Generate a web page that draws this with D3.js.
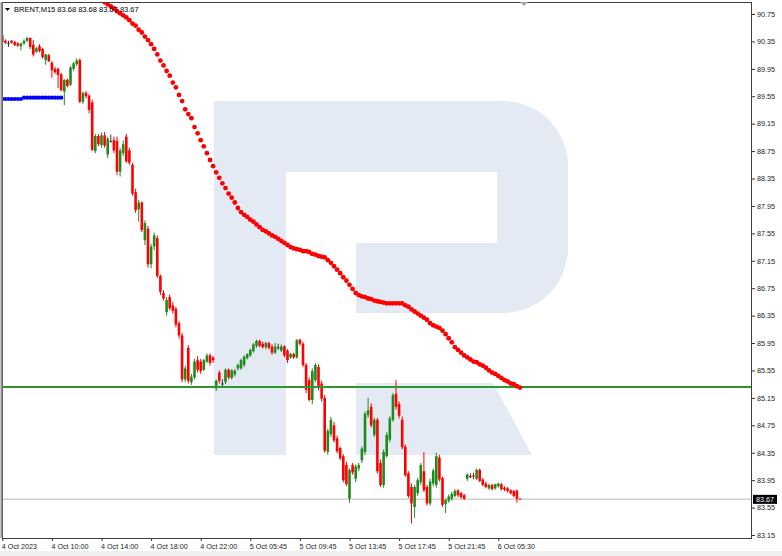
<!DOCTYPE html>
<html>
<head>
<meta charset="utf-8">
<script src="https://cdn.jsdelivr.net/npm/d3@7"></script>
<style>
  body { margin: 0; background: #fff; }
  svg { display: block; font-family: 'Liberation Sans', Arial, sans-serif; }
</style>
</head>
<body>
<script>
// BRENT M15, bars indexed 0..167
const opens = [
  90.44, 90.36, 90.33, 90.36, 90.34, 90.32, 90.28, 90.32, 90.36, 90.40,
  90.30, 90.20, 90.28, 90.24, 90.08, 90.15, 90.04, 89.95, 89.95, 89.87,
  89.62, 89.79, 89.72, 89.95, 90.02, 90.08, 89.47, 89.60, 89.56, 89.46,
  88.75, 88.97, 88.84, 88.98, 88.70, 88.90, 88.91, 88.90, 88.45, 88.72,
  88.96, 88.76, 88.55, 88.15, 87.90, 88.00, 87.45, 87.62, 87.10, 87.36,
  87.48, 86.93, 86.68, 86.40, 86.62, 86.50, 86.45, 86.24, 86.06, 85.42,
  85.88, 85.38, 85.45, 85.70, 85.68, 85.56, 85.68, 85.77, 85.74, 85.29,
  85.52, 85.36, 85.38, 85.56, 85.44, 85.49, 85.58, 85.58, 85.63, 85.73,
  85.77, 85.83, 85.91, 85.98, 85.94, 85.89, 85.95, 85.90, 85.81, 85.89,
  85.84, 85.90, 85.84, 85.74, 85.79, 85.74, 86.00, 85.94, 85.63, 85.41,
  85.12, 85.41, 85.60, 85.36, 85.15, 84.36, 84.62, 84.75, 84.56, 84.42,
  84.30, 84.17, 83.68, 84.17, 83.97, 84.12, 84.24, 84.36, 84.90, 85.02,
  84.61, 84.83, 84.20, 83.88, 84.30, 84.54, 84.83, 85.21, 85.06, 84.83,
  84.44, 84.05, 83.85, 83.56, 83.76, 83.92, 84.08, 83.85, 83.61, 83.90,
  83.88, 84.28, 83.98, 83.60, 83.65, 83.68, 83.72, 83.80, 83.76, 83.73,
  83.97, 84.01, 84.02, 83.97, 84.10, 83.96, 83.90, 83.83, 83.88, 83.83,
  83.86, 83.89, 83.84, 83.83, 83.80, 83.79, 83.80, 83.68
];
const highs = [
  90.46, 90.38, 90.36, 90.37, 90.36, 90.34, 90.33, 90.38, 90.42, 90.41,
  90.37, 90.27, 90.31, 90.26, 90.17, 90.17, 90.06, 89.98, 89.97, 89.89,
  89.80, 89.81, 89.99, 90.05, 90.10, 90.10, 89.62, 89.63, 89.58, 89.50,
  89.00, 89.00, 89.02, 89.03, 88.96, 88.99, 88.96, 88.96, 88.80, 88.90,
  89.00, 88.80, 88.58, 88.20, 88.04, 88.02, 87.74, 87.66, 87.40, 87.56,
  87.52, 86.95, 86.72, 86.62, 86.66, 86.55, 86.48, 86.27, 86.10, 85.62,
  85.92, 85.50, 85.72, 85.76, 85.72, 85.72, 85.80, 85.80, 85.76, 85.42,
  85.55, 85.42, 85.58, 85.58, 85.57, 85.57, 85.65, 85.72, 85.77, 85.80,
  85.87, 85.95, 86.00, 86.00, 85.97, 85.97, 85.97, 85.93, 85.95, 85.94,
  85.93, 85.92, 85.86, 85.81, 85.81, 86.01, 86.01, 85.97, 85.66, 85.45,
  85.58, 85.66, 85.64, 85.40, 85.19, 84.70, 84.87, 84.80, 84.60, 84.44,
  84.33, 84.22, 84.12, 84.20, 84.18, 84.20, 84.44, 84.95, 85.15, 85.07,
  84.86, 84.86, 84.25, 84.40, 84.65, 84.88, 85.22, 85.41, 85.10, 84.88,
  84.47, 84.08, 83.90, 83.88, 83.98, 84.20, 84.36, 83.88, 83.97, 84.12,
  84.35, 84.32, 84.00, 83.68, 83.74, 83.78, 83.82, 83.82, 83.78, 83.75,
  84.05, 84.05, 84.06, 84.12, 84.12, 83.98, 83.93, 83.90, 83.90, 83.90,
  83.91, 83.91, 83.86, 83.85, 83.82, 83.81, 83.81, 83.68
];
const lows = [
  90.33, 90.31, 90.27, 90.32, 90.28, 90.27, 90.22, 90.30, 90.34, 90.24,
  90.13, 90.18, 90.19, 90.10, 90.01, 90.05, 89.82, 89.88, 89.67, 89.62,
  89.42, 89.68, 89.70, 89.92, 89.99, 89.45, 89.44, 89.52, 89.30, 88.75,
  88.72, 88.82, 88.80, 88.80, 88.65, 88.87, 88.72, 88.40, 88.38, 88.68,
  88.58, 88.55, 88.10, 87.85, 87.72, 87.57, 87.38, 87.05, 87.04, 87.30,
  86.90, 86.65, 86.57, 86.35, 86.43, 86.38, 86.18, 86.02, 85.38, 85.38,
  85.36, 85.34, 85.42, 85.52, 85.50, 85.54, 85.66, 85.62, 85.66, 85.25,
  85.36, 85.30, 85.35, 85.42, 85.42, 85.46, 85.55, 85.56, 85.60, 85.71,
  85.75, 85.81, 85.88, 85.89, 85.87, 85.86, 85.86, 85.78, 85.79, 85.85,
  85.82, 85.74, 85.66, 85.72, 85.72, 85.72, 85.91, 85.60, 85.22, 85.10,
  85.06, 85.38, 85.26, 85.10, 84.35, 84.32, 84.58, 84.50, 84.34, 84.24,
  83.92, 83.86, 83.62, 84.03, 83.92, 84.08, 84.20, 84.32, 84.86, 84.72,
  84.58, 84.05, 83.85, 83.84, 84.28, 84.50, 84.80, 84.98, 84.85, 84.40,
  84.00, 83.69, 83.32, 83.40, 83.72, 83.88, 83.78, 83.58, 83.58, 83.86,
  83.84, 83.93, 83.56, 83.47, 83.62, 83.65, 83.70, 83.70, 83.68, 83.66,
  83.94, 83.98, 83.96, 83.95, 83.92, 83.86, 83.83, 83.81, 83.80, 83.81,
  83.84, 83.80, 83.79, 83.77, 83.74, 83.70, 83.62, 83.67
];
const closes = [
  90.34, 90.33, 90.33, 90.33, 90.30, 90.29, 90.32, 90.36, 90.40, 90.27,
  90.16, 90.25, 90.21, 90.12, 90.16, 90.06, 89.93, 89.90, 89.86, 89.64,
  89.79, 89.70, 89.97, 90.03, 90.07, 89.47, 89.60, 89.55, 89.35, 88.77,
  88.97, 88.85, 88.98, 88.83, 88.93, 88.90, 88.76, 88.45, 88.76, 88.85,
  88.60, 88.58, 88.13, 87.89, 88.00, 87.60, 87.70, 87.10, 87.36, 87.52,
  86.93, 86.70, 86.60, 86.58, 86.46, 86.42, 86.22, 86.06, 85.42, 85.58,
  85.40, 85.46, 85.68, 85.56, 85.54, 85.70, 85.77, 85.66, 85.70, 85.40,
  85.40, 85.36, 85.56, 85.45, 85.55, 85.55, 85.63, 85.70, 85.75, 85.79,
  85.85, 85.93, 85.98, 85.91, 85.89, 85.95, 85.88, 85.81, 85.90, 85.89,
  85.90, 85.77, 85.70, 85.79, 85.74, 85.99, 85.94, 85.63, 85.27, 85.12,
  85.54, 85.63, 85.30, 85.14, 84.38, 84.67, 84.83, 84.53, 84.37, 84.27,
  83.95, 83.89, 84.10, 84.06, 84.15, 84.17, 84.41, 84.92, 84.97, 84.75,
  84.83, 84.08, 83.88, 84.36, 84.61, 84.85, 85.19, 85.02, 84.89, 84.43,
  84.02, 83.72, 83.61, 83.85, 83.95, 84.17, 83.80, 83.61, 83.93, 84.09,
  84.30, 83.96, 83.59, 83.66, 83.71, 83.75, 83.79, 83.73, 83.70, 83.68,
  84.03, 84.01, 84.00, 84.10, 83.94, 83.88, 83.85, 83.88, 83.82, 83.89,
  83.90, 83.82, 83.81, 83.79, 83.76, 83.72, 83.68, 83.67
];

// moving average (red dots), first visible at bar 33
const maStart = 33;
const maValues = [
  90.92, 90.89, 90.86, 90.83, 90.79, 90.76, 90.73, 90.70, 90.66, 90.61,
  90.58, 90.52, 90.48, 90.42, 90.37, 90.31, 90.24, 90.16, 90.07, 90.00,
  89.92, 89.85, 89.75, 89.68, 89.57, 89.48, 89.36, 89.29, 89.23, 89.10,
  89.01, 88.91, 88.82, 88.72, 88.62, 88.53, 88.44, 88.36, 88.28, 88.21,
  88.13, 88.07, 88.00, 87.92, 87.86, 87.82, 87.79, 87.75, 87.72, 87.68,
  87.64, 87.60, 87.58, 87.55, 87.52, 87.50, 87.47, 87.44, 87.41, 87.38,
  87.35, 87.33, 87.32, 87.31, 87.29, 87.29, 87.28, 87.25, 87.24, 87.22,
  87.21, 87.20, 87.16, 87.12, 87.07, 87.02, 86.97, 86.91, 86.86, 86.80,
  86.74, 86.68, 86.65, 86.63, 86.62, 86.60, 86.59, 86.57, 86.56, 86.55,
  86.54, 86.53, 86.53, 86.53, 86.53, 86.53, 86.53, 86.50, 86.48, 86.44,
  86.41, 86.38, 86.35, 86.32, 86.29, 86.24, 86.21, 86.19, 86.17, 86.13,
  86.08, 86.02, 85.96, 85.89, 85.85, 85.81, 85.77, 85.74, 85.71, 85.68,
  85.67, 85.64, 85.62, 85.59, 85.55, 85.52, 85.50, 85.47, 85.44, 85.41,
  85.39, 85.36, 85.35, 85.32, 85.30
];

// blue dotted level at the start of the chart
const blueValues = [
  89.51, 89.51, 89.51, 89.51, 89.51, 89.51, 89.51, 89.53, 89.53, 89.53,
  89.53, 89.53, 89.53, 89.53, 89.53, 89.53, 89.53, 89.53, 89.53, 89.53
];

const supportLevel = 85.31;
const bidPrice = 83.67;

const yTicks = [90.75, 90.35, 89.95, 89.55, 89.15, 88.75, 88.35, 87.95, 87.55, 87.15,
  86.75, 86.35, 85.95, 85.55, 85.15, 84.75, 84.35, 83.95, 83.55, 83.15];
const xTickBars = [0, 16, 32, 48, 64, 80, 96, 112, 128, 144, 160];
const xTickLabels = ['4 Oct 2023', '4 Oct 10:00', '4 Oct 14:00', '4 Oct 18:00', '4 Oct 22:00',
  '5 Oct 05:45', '5 Oct 09:45', '5 Oct 13:45', '5 Oct 17:45', '5 Oct 21:45', '6 Oct 05:30'];

const svgWidth = 782,
  svgHeight = 556,
  plotLeft = 2,
  plotRight = 752,
  plotTop = 2,
  plotBottom = 538,
  bullColor = '#1f8b1f',
  bearColor = '#ff0000',
  dojiColor = '#333333',
  maColor = '#ff0000',
  blueColor = '#0000ff',
  logoColor = '#e4eaf3';

const svg = d3.select('body')
  .append('svg')
  .attr('width', svgWidth)
  .attr('height', svgHeight);

svg.append('rect')
  .attr('x', 0).attr('y', 551)
  .attr('width', svgWidth).attr('height', 5)
  .attr('fill', '#f0f0f0');

const yScale = d3.scaleLinear()
  .domain([83.15, 90.75])
  .range([535, 14]);

const xScale = d3.scaleLinear()
  .domain([0, 160])
  .range([2.3, 498.3]);

svg.append('clipPath')
  .attr('id', 'plot')
  .append('rect')
  .attr('x', plotLeft).attr('y', plotTop)
  .attr('width', plotRight - plotLeft).attr('height', plotBottom - plotTop);

const plot = svg.append('g').attr('clip-path', 'url(#plot)');

// watermark "R"
const logo = plot.append('g').attr('fill', logoColor);
logo.append('rect').attr('x', 214).attr('y', 101).attr('width', 72).attr('height', 354);
logo.append('path')
  .attr('d', 'M286,101 H503 A65,65 0 0 1 568,166 V248 A65,65 0 0 1 503,313 H356 V243 H497 V172 H286 Z');
logo.append('path')
  .attr('d', 'M356,383 H493 L532,455 H356 Z');

// bid line
plot.append('line')
  .attr('x1', plotLeft).attr('x2', plotRight)
  .attr('y1', yScale(bidPrice)).attr('y2', yScale(bidPrice))
  .attr('stroke', '#d0d0d0')
  .attr('stroke-width', 1.5);

const bars = d3.range(closes.length).map(i => ({
  i: i, o: opens[i], h: highs[i], l: lows[i], c: closes[i]
}));

const colorOf = d => Math.abs(d.c - d.o) < 0.005 ? dojiColor : (d.c > d.o ? bullColor : bearColor);

plot.selectAll('.wick')
  .data(bars)
  .enter()
  .append('line')
  .attr('x1', d => xScale(d.i))
  .attr('x2', d => xScale(d.i))
  .attr('y1', d => yScale(d.h))
  .attr('y2', d => yScale(d.l))
  .attr('stroke', colorOf)
  .attr('stroke-width', 1);

plot.selectAll('.body')
  .data(bars)
  .enter()
  .append('rect')
  .attr('x', d => xScale(d.i) - 1.3)
  .attr('width', 2.6)
  .attr('y', d => yScale(Math.max(d.o, d.c)))
  .attr('height', d => Math.max(1, Math.abs(yScale(d.o) - yScale(d.c))))
  .attr('fill', colorOf);

// support line
plot.append('line')
  .attr('x1', plotLeft).attr('x2', plotRight)
  .attr('y1', yScale(supportLevel)).attr('y2', yScale(supportLevel))
  .attr('stroke', '#2e962e')
  .attr('stroke-width', 2);

plot.selectAll('.ma')
  .data(maValues)
  .enter()
  .append('circle')
  .attr('cx', (d, k) => xScale(maStart + k))
  .attr('cy', d => yScale(d))
  .attr('r', 2.4)
  .attr('fill', maColor);

plot.selectAll('.blue')
  .data(blueValues)
  .enter()
  .append('circle')
  .attr('cx', (d, k) => xScale(k))
  .attr('cy', d => yScale(d))
  .attr('r', 2.1)
  .attr('fill', blueColor);

// frame
svg.append('rect')
  .attr('x', plotLeft + 0.5).attr('y', plotTop + 0.5)
  .attr('width', plotRight - plotLeft - 1).attr('height', plotBottom - plotTop)
  .attr('fill', 'none')
  .attr('stroke', '#404040')
  .attr('stroke-width', 1);
svg.append('line')
  .attr('x1', 1.5).attr('x2', 1.5).attr('y1', plotTop).attr('y2', plotBottom)
  .attr('stroke', '#909090').attr('stroke-width', 2);

// axes
const yAxis = d3.axisRight(yScale)
  .tickValues(yTicks)
  .tickSize(3)
  .tickPadding(2)
  .tickFormat(d3.format('.2f'));

svg.append('g')
  .attr('transform', `translate(${plotRight}, 0)`)
  .call(yAxis)
  .call(g => g.select('.domain').remove())
  .selectAll('text')
  .style('font-size', '7.2px')
  .attr('fill', '#222');

const xAxis = d3.axisBottom(xScale)
  .tickValues(xTickBars)
  .tickSize(3)
  .tickPadding(3)
  .tickFormat((d, k) => xTickLabels[k]);

svg.append('g')
  .attr('transform', `translate(0, ${plotBottom})`)
  .call(xAxis)
  .call(g => g.select('.domain').remove())
  .selectAll('text')
  .style('font-size', '7.2px')
  .style('text-anchor', 'start')
  .attr('dx', '-1')
  .attr('fill', '#222');

svg.selectAll('.tick line').attr('stroke', '#333');

// current price tag
svg.append('rect')
  .attr('x', 753).attr('y', yScale(bidPrice) - 4.5)
  .attr('width', 24).attr('height', 9)
  .attr('fill', '#000');
svg.append('text')
  .attr('x', 756).attr('y', yScale(bidPrice) + 2.5)
  .attr('fill', '#fff')
  .style('font-size', '7.2px')
  .text(d3.format('.2f')(bidPrice));

// header
svg.append('path').attr('d', 'M5,8 L10,8 L7.5,11 Z').attr('fill', '#000');
svg.append('text')
  .attr('x', 14).attr('y', 12)
  .style('font-size', '7.5px')
  .attr('fill', '#000')
  .text('BRENT,M15  83.68 83.68 83.67 83.67');

// chart shift marker
svg.append('path').attr('d', 'M520,2 L528,2 L524,6 Z').attr('fill', '#a8a8a8');
</script>
</body>
</html>
